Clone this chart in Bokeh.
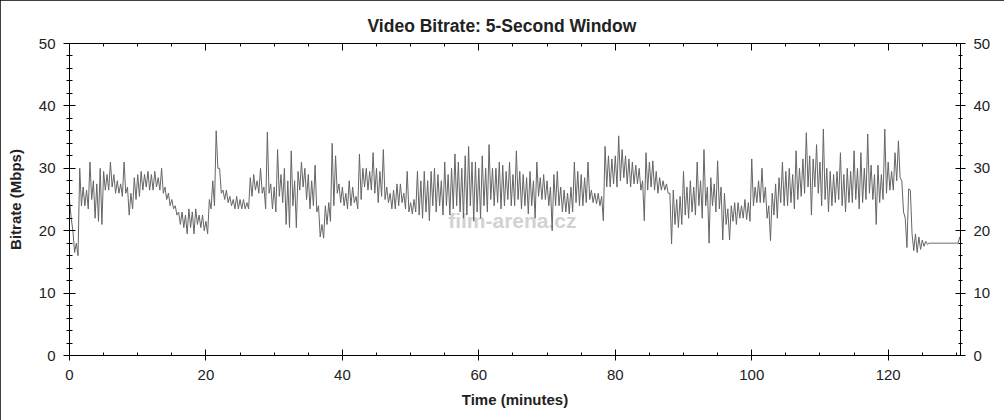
from bokeh.plotting import figure
from bokeh.models import LinearAxis, SingleIntervalTicker, FixedTicker, Range1d
from bokeh.embed import file_html
from bokeh.resources import INLINE
from bokeh.core.properties import value

# Video bitrate (Mbps): for every half-minute slot,
# the top and the bottom of the trace's band
bitrate_high = [
    25, 20, 18, 30, 27, 26.5, 31, 28, 27.5, 30,             # 0 - 4.5
    29.5, 29, 31, 29, 28, 27.5, 31, 27, 26, 28.5,           # 5 - 9.5
    29, 29.5, 29, 29.5, 29, 29.5, 28.5, 30, 27, 26,         # 10 - 14.5
    25, 24, 23, 23, 22.5, 23.5, 23, 23.5, 22.5, 22.5,       # 15 - 19.5
    21.5, 25, 28, 36, 30, 26.5, 26.5, 25.5, 25, 25.5,       # 20 - 24.5
    25, 25, 24.5, 28.5, 29, 28, 30, 27, 35.8, 27.5,         # 25 - 29.5
    27, 33, 29, 30, 28, 32.8, 28, 29.5, 31, 30,             # 30 - 34.5
    29, 28, 30.5, 24, 21, 24, 24.5, 34, 32, 27.5,           # 35 - 39.5
    27, 26, 28, 27, 25.5, 32.3, 30, 30, 29.5, 32.5,         # 40 - 44.5
    30, 29.5, 33, 27, 26, 26.5, 27.5, 27.5, 26, 29.5,       # 45 - 49.5
    24.5, 25, 29.5, 28, 29.5, 28, 29.5, 30, 29, 28,         # 50 - 54.5
    31, 29, 30, 32.3, 31, 30, 32, 33.5, 31, 31,             # 55 - 59.5
    30, 32, 30, 33.8, 30, 30, 31, 30.5, 29.5, 31,           # 60 - 64.5
    29, 32.8, 29.5, 29, 28.5, 29.5, 28, 31, 28.5, 29,       # 65 - 69.5
    28, 27, 29, 29.5, 27, 26.5, 26, 27, 31, 29.5,           # 70 - 74.5
    29, 28.5, 31, 26.5, 26, 26, 25.5, 33.5, 32, 31.5,       # 75 - 79.5
    32, 35.2, 33, 32, 31.5, 31, 30.5, 30, 28, 32.5,         # 80 - 84.5
    31, 31.2, 29.5, 28.5, 28, 27.5, 26, 26.5, 25, 25.5,     # 85 - 89.5
    29.5, 27, 28, 27, 31, 28, 33, 27, 28.5, 27.5,           # 90 - 94.5
    31.2, 27, 26, 23.5, 24, 24.5, 24.5, 24, 25, 24.5,       # 95 - 99.5
    31.5, 27, 28, 30, 27, 24, 26, 27.5, 28.5, 31,           # 100 - 104.5
    29.5, 30, 29, 32.8, 30, 31.5, 35.7, 32, 31.5, 33.8,     # 105 - 109.5
    31, 36.3, 30, 29.5, 29, 29.5, 32.5, 29, 30, 29.5,       # 110 - 114.5
    32.8, 30, 32.5, 30, 35.5, 30.5, 29, 30.5, 29, 36.3,     # 115 - 119.5
    31, 29.5, 32.5, 34.4, 28, 22, 26.7, 19.5, 19.5, 19,     # 120 - 124.5
    18.5, 18.3, 18, 18, 18, 18, 18, 18, 18, 18,             # 125 - 129.5
    18, 19,                                                 # 130 - 130.5
]
bitrate_low = [
    22, 16.5, 16, 24, 24, 23.5, 25, 22, 21.5, 21,           # 0 - 4.5
    26.5, 26.5, 27, 26, 26, 25.5, 26, 22.5, 23.5, 25,       # 5 - 9.5
    25.5, 26.5, 27, 26.5, 26.5, 27, 26.5, 26, 25, 24,       # 10 - 14.5
    23.5, 22.5, 21, 20.5, 19.5, 20.5, 19.5, 21, 20.5, 20,   # 15 - 19.5
    19.5, 23.5, 24, 30, 26, 25, 24.5, 24, 23.5, 23.5,       # 20 - 24.5
    23.5, 23.5, 23.5, 25.5, 26.5, 26, 26, 23.5, 26, 23.5,   # 25 - 29.5
    23, 25.5, 24.5, 21, 20.5, 24, 20.5, 26.5, 27, 25,       # 30 - 34.5
    23.5, 24, 23, 19, 18.8, 21, 21.5, 24, 26, 24.5,         # 35 - 39.5
    24, 23.5, 24, 24.5, 23.5, 25, 27, 26.5, 26.5, 26,       # 40 - 44.5
    24.5, 25.5, 25, 24.5, 23.5, 23.5, 24, 24.5, 23.5, 23,   # 45 - 49.5
    22.7, 23, 22.5, 22, 23, 21.6, 24, 23, 24, 22.5,         # 50 - 54.5
    24, 22.5, 23.5, 24, 23, 22, 22.5, 24, 21.5, 23,         # 55 - 59.5
    22, 24, 23, 25, 24, 24.5, 23.5, 24, 25, 24,             # 60 - 64.5
    24, 25, 23.5, 24, 22.7, 24, 22, 25.5, 25, 25,           # 65 - 69.5
    24, 20, 24, 24, 23, 23, 22.7, 23, 24.5, 24,             # 70 - 74.5
    24, 24.5, 25, 24.5, 24.3, 24, 21.6, 27, 27, 27.5,       # 75 - 79.5
    27, 28, 28.5, 27.5, 27, 27.5, 27.5, 26.5, 21.6, 26.5,   # 80 - 84.5
    27, 26.5, 26, 26.5, 26.5, 26, 17.9, 21, 20.5, 21,       # 85 - 89.5
    22.5, 22, 23, 22.5, 24, 22, 24, 18, 24, 23,             # 90 - 94.5
    23.5, 18.5, 21, 18.5, 21.5, 21, 22, 22, 21.8, 21.5,     # 95 - 99.5
    24, 24.5, 24.5, 24.5, 22, 18.4, 22.5, 22, 24.5, 24,     # 100 - 104.5
    24, 24.5, 23.5, 25, 25.5, 26, 27, 22.5, 27, 26,         # 105 - 109.5
    24, 25, 23, 24, 24.5, 25, 24, 23, 24.5, 24.5,           # 110 - 114.5
    25, 23.5, 24.5, 25, 26, 25, 21, 24.5, 25, 26,           # 115 - 119.5
    26.5, 26.5, 28, 28.5, 23, 17.3, 26.5, 16.8, 16.5, 17,   # 120 - 124.5
    17.5, 17.8, 18, 18, 18, 18, 18, 18, 18, 18,             # 125 - 129.5
    18, 17.5,                                               # 130 - 130.5
]
slot_minutes = 0.5

title_text = "Video Bitrate: 5-Second Window"
x_label = "Time (minutes)"
y_label = "Bitrate (Mbps)"
watermark = "film-arena.cz"

# trace: top of each slot, then the bottom a quarter-minute later
n = min(len(bitrate_high), len(bitrate_low))
trace_t, trace_v = [], []
for i in range(n):
    t0 = i * slot_minutes
    trace_t += [t0, t0 + slot_minutes / 2]
    trace_v += [bitrate_high[i], bitrate_low[i]]

FONT = "Liberation Sans"

p = figure(
    frame_width=891, frame_height=312,
    output_backend="svg", toolbar_location=None,
    x_range=Range1d(0, 130.6), y_range=Range1d(0, 50),
    x_axis_location=None, y_axis_location=None,
    min_border_left=69, min_border_right=44,
    min_border_top=43, min_border_bottom=65,
    background_fill_color="white", border_fill_color="white",
    outline_line_color="black",
    styles={"outline": "1px solid black", "outline-offset": "-1px"},
)
p.grid.visible = False

p.title.text = title_text
p.title.text_font = FONT
p.title.text_font_size = "17.5px"
p.title.text_font_style = "bold"
p.title.text_color = "#222222"
p.title.align = "left"
p.title.offset = 298
p.title.standoff = 16


def style_axis(ax):
    ax.axis_line_color = "black"
    ax.major_tick_line_color = "black"
    ax.minor_tick_line_color = "black"
    ax.major_label_text_font = FONT
    ax.major_label_text_font_size = "15px"
    ax.major_label_text_color = "#222222"
    ax.axis_label_text_font = FONT
    ax.axis_label_text_font_size = "15px"
    ax.axis_label_text_font_style = "bold"
    ax.axis_label_text_color = "#222222"


xt = SingleIntervalTicker(interval=20, num_minor_ticks=4)
yt = SingleIntervalTicker(interval=10, num_minor_ticks=5)

bottom = LinearAxis(ticker=xt, axis_label=x_label)
style_axis(bottom)
bottom.major_tick_in = 6
bottom.major_tick_out = 5
bottom.minor_tick_in = 3
bottom.minor_tick_out = 0
bottom.major_label_standoff = 9
bottom.axis_label_standoff = 8
p.add_layout(bottom, "below")

# top edge: tick marks only (no labels)
top_minor = LinearAxis(ticker=FixedTicker(ticks=[], minor_ticks=list(range(0, 131, 5))))
style_axis(top_minor)
top_minor.minor_tick_in = 3
top_minor.minor_tick_out = 0
top_minor.major_tick_out = 0
top_minor.major_label_standoff = 0
p.add_layout(top_minor, "above")

top_major = LinearAxis(ticker=FixedTicker(ticks=[], minor_ticks=list(range(0, 131, 20))))
style_axis(top_major)
top_major.axis_line_color = None
top_major.minor_tick_in = 7
top_major.minor_tick_out = 0
top_major.major_tick_out = 0
top_major.major_label_standoff = 0
p.add_layout(top_major, "above")

left = LinearAxis(ticker=yt, axis_label=y_label)
style_axis(left)
left.major_tick_in = 6
left.major_tick_out = 6
left.minor_tick_in = 3
left.minor_tick_out = 3
left.major_label_standoff = 8
left.axis_label_standoff = 12
p.add_layout(left, "left")

right = LinearAxis(ticker=yt)
style_axis(right)
right.major_tick_in = 5
right.major_tick_out = 5
right.minor_tick_in = 2
right.minor_tick_out = 2
right.major_label_standoff = 8
p.add_layout(right, "right")

# watermark
p.text(x=[55.5], y=[21.6], text=[watermark], text_font=value(FONT),
       text_font_size="21px", text_font_style="bold", text_color="#d2d2d2",
       text_align="left", text_baseline="middle")

p.line(trace_t, trace_v, line_color="#656565", line_width=1)

open("out.html", "w").write(file_html(p, INLINE))
